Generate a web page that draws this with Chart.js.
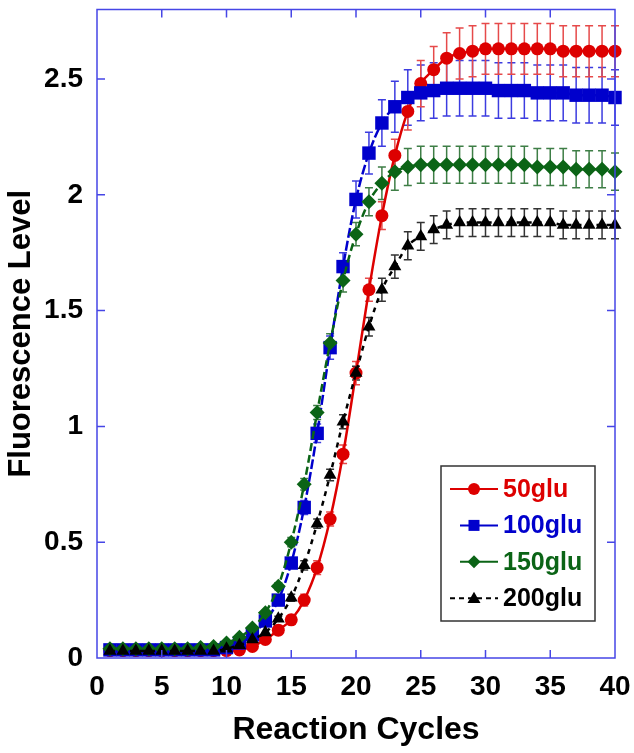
<!DOCTYPE html>
<html>
<head>
<meta charset="utf-8">
<script src="https://cdn.jsdelivr.net/npm/chart.js@4.4.0/dist/chart.umd.min.js"></script>
<style>
html, body { margin: 0; padding: 0; background: #fff; }
#wrap { width: 634px; height: 753px; position: relative; }
</style>
</head>
<body>
<div id="wrap"><canvas id="myChart" width="634" height="753"></canvas></div>
<script>
var cycles = [1,2,3,4,5,6,7,8,9,10,11,12,13,14,15,16,17,18,19,20,21,22,23,24,25,26,27,28,29,30,31,32,33,34,35,36,37,38,39,40];

var glu50 = [0.032,0.032,0.032,0.032,0.032,0.032,0.032,0.032,0.032,0.032,0.035,0.05,0.08,0.12,0.165,0.25,0.39,0.60,0.88,1.23,
             1.59,1.91,2.17,2.36,2.48,2.54,2.59,2.61,2.62,2.63,2.63,2.63,2.63,2.63,2.63,2.62,2.62,2.62,2.62,2.62];
var glu100 = [0.035,0.035,0.035,0.035,0.035,0.035,0.035,0.035,0.035,0.045,0.065,0.10,0.16,0.25,0.41,0.65,0.97,1.34,1.69,1.98,
              2.18,2.31,2.38,2.42,2.44,2.45,2.46,2.46,2.46,2.46,2.45,2.45,2.45,2.44,2.44,2.44,2.43,2.43,2.43,2.42];
var glu150 = [0.04,0.04,0.04,0.04,0.04,0.04,0.04,0.045,0.05,0.065,0.09,0.13,0.195,0.31,0.50,0.75,1.06,1.36,1.63,1.83,
              1.97,2.05,2.10,2.12,2.13,2.13,2.13,2.13,2.13,2.13,2.13,2.13,2.13,2.12,2.12,2.12,2.11,2.11,2.11,2.10];
var glu200 = [0.03,0.03,0.03,0.03,0.03,0.03,0.03,0.03,0.03,0.04,0.055,0.08,0.11,0.17,0.26,0.40,0.58,0.79,1.02,1.23,
              1.43,1.59,1.69,1.78,1.82,1.85,1.87,1.88,1.88,1.88,1.88,1.88,1.88,1.88,1.88,1.87,1.87,1.87,1.87,1.87];

var err50 = [0,0,0,0,0,0,0,0,0,0,0.01,0.01,0.015,0.02,0.02,0.025,0.03,0.03,0.04,0.05,
             0.05,0.06,0.07,0.08,0.10,0.10,0.11,0.11,0.11,0.11,0.11,0.11,0.11,0.11,0.11,0.11,0.11,0.11,0.11,0.11];
var err100 = [0,0,0,0,0,0,0,0,0,0,0,0,0.01,0.015,0.02,0.03,0.04,0.05,0.06,0.08,
              0.09,0.10,0.11,0.12,0.12,0.12,0.12,0.12,0.12,0.12,0.12,0.12,0.12,0.12,0.12,0.12,0.12,0.12,0.12,0.12];
var err150 = [0,0,0,0,0,0,0,0,0,0,0,0,0.01,0.015,0.02,0.025,0.03,0.04,0.05,0.05,
              0.06,0.07,0.08,0.08,0.08,0.08,0.08,0.08,0.08,0.08,0.08,0.08,0.08,0.08,0.08,0.08,0.08,0.08,0.08,0.08];
var err200 = [0,0,0,0,0,0,0,0,0,0,0,0,0,0.01,0.015,0.02,0.02,0.025,0.03,0.03,
              0.04,0.05,0.05,0.06,0.06,0.06,0.06,0.06,0.06,0.06,0.06,0.06,0.06,0.06,0.06,0.06,0.06,0.06,0.06,0.06];

var seriesNames = ["50glu", "100glu", "150glu", "200glu"];
var xTicks = [0, 5, 10, 15, 20, 25, 30, 35, 40];
var yTicks = [0, 0.5, 1, 1.5, 2, 2.5];

var FONT = 'Arial, "Liberation Sans", Helvetica, sans-serif';
var FRAME = '#4646e6';

function toPoints(vals, errs){
    var pts = new Array();
    for (var i = 0; i < cycles.length; i++){
        pts.push({x: cycles[i], y: vals[i], e: errs[i]});
    }
    return pts;
}

function makeSet(label, vals, errs, color, errColor, style, radius, dash, width, order){
    return {
        label: label,
        data: toPoints(vals, errs),
        borderColor: color,
        backgroundColor: color,
        pointBackgroundColor: color,
        pointBorderColor: color,
        pointBorderWidth: 0,
        pointStyle: style,
        pointRadius: radius,
        borderWidth: width,
        borderDash: dash,
        errColor: errColor,
        tension: 0.3,
        cubicInterpolationMode: 'monotone',
        fill: false,
        clip: false,
        order: order
    };
}

var datasets = [
    makeSet(seriesNames[0], glu50, err50, '#dd0000', '#e64a4a', 'circle', 6.5, [], 2.5, 4),
    makeSet(seriesNames[1], glu100, err100, '#0000cc', '#3c3ce0', 'rect', 9.5, [10, 3], 2.5, 3),
    makeSet(seriesNames[2], glu150, err150, '#0b6416', '#3e7e46', 'rectRot', 7.5, [8, 4], 2.5, 2),
    makeSet(seriesNames[3], glu200, err200, '#000000', '#333333', 'triangle', 7.5, [5, 5], 2.5, 1)
];

// error bars, drawn under the markers
var errorBars = {
    id: 'errorBars',
    beforeDatasetsDraw: function(chart){
        var ctx = chart.ctx;
        var xs = chart.scales.x, ys = chart.scales.y;
        ctx.save();
        for (var d = chart.data.datasets.length - 1; d >= 0; d--){
            var ds = chart.data.datasets[d];
            ctx.strokeStyle = ds.errColor;
            ctx.lineWidth = 1.5;
            for (var p of ds.data){
                if (!p.e) continue;
                var px = xs.getPixelForValue(p.x);
                var top = ys.getPixelForValue(p.y + p.e);
                var bot = ys.getPixelForValue(p.y - p.e);
                ctx.beginPath();
                ctx.moveTo(px, top); ctx.lineTo(px, bot);
                ctx.moveTo(px - 4, top); ctx.lineTo(px + 4, top);
                ctx.moveTo(px - 4, bot); ctx.lineTo(px + 4, bot);
                ctx.stroke();
            }
        }
        ctx.restore();
    }
};

// blue frame with inward ticks on all four sides
var frame = {
    id: 'frame',
    afterDatasetsDraw: function(chart){
        var ctx = chart.ctx;
        var a = chart.chartArea;
        var xs = chart.scales.x, ys = chart.scales.y;
        ctx.save();
        ctx.strokeStyle = FRAME;
        ctx.lineWidth = 1.5;
        ctx.strokeRect(a.left, a.top, a.right - a.left, a.bottom - a.top);
        ctx.beginPath();
        for (var t of xTicks){
            if (t == 0 || t == 40) continue;
            var px = xs.getPixelForValue(t);
            ctx.moveTo(px, a.bottom); ctx.lineTo(px, a.bottom - 8);
            ctx.moveTo(px, a.top); ctx.lineTo(px, a.top + 8);
        }
        for (var v of yTicks){
            if (v == 0) continue;
            var py = ys.getPixelForValue(v);
            ctx.moveTo(a.left, py); ctx.lineTo(a.left + 8, py);
            ctx.moveTo(a.right, py); ctx.lineTo(a.right - 8, py);
        }
        ctx.stroke();
        ctx.restore();
    }
};

function marker(ctx, style, x, y, r){
    ctx.beginPath();
    if (style == 'circle'){
        ctx.arc(x, y, r, 0, Math.PI * 2);
    } else if (style == 'rect'){
        ctx.rect(x - r, y - r, 2 * r, 2 * r);
    } else if (style == 'rectRot'){
        ctx.moveTo(x, y - r); ctx.lineTo(x + r, y); ctx.lineTo(x, y + r); ctx.lineTo(x - r, y);
        ctx.closePath();
    } else {
        ctx.moveTo(x, y - r); ctx.lineTo(x + r, y + r * 0.75); ctx.lineTo(x - r, y + r * 0.75);
        ctx.closePath();
    }
    ctx.fill();
}

// boxed legend inside the plot, lower right
var boxLegend = {
    id: 'boxLegend',
    afterDraw: function(chart){
        var ctx = chart.ctx;
        var sets = chart.data.datasets;
        var lineStart = [450, 460, 460, 450];
        var markR = [6, 5.5, 6.5, 6.5];
        ctx.save();
        ctx.fillStyle = '#fff';
        ctx.fillRect(441, 466, 154, 155);
        ctx.strokeStyle = '#333';
        ctx.lineWidth = 1.5;
        ctx.strokeRect(441, 466, 154, 155);
        for (var i = 0; i < sets.length; i++){
            var y = 489 + i * 36.4;
            ctx.strokeStyle = sets[i].borderColor;
            ctx.lineWidth = 2;
            ctx.setLineDash(i == 3 ? [5, 4] : []);
            ctx.beginPath();
            ctx.moveTo(lineStart[i], y); ctx.lineTo(498, y);
            ctx.stroke();
            ctx.setLineDash([]);
            ctx.fillStyle = sets[i].borderColor;
            marker(ctx, sets[i].pointStyle, 474, y, markR[i]);
            ctx.font = 'bold 25px ' + FONT;
            ctx.textBaseline = 'middle';
            ctx.textAlign = 'left';
            ctx.fillText(sets[i].label, 503, y + 1);
        }
        ctx.restore();
    }
};

var ctx = document.getElementById("myChart").getContext('2d');
var fluoChart = new Chart(ctx, {
    type: 'line',
    data: { datasets: datasets },
    plugins: [errorBars, frame, boxLegend],
    options: {
        responsive: false,
        animation: false,
        devicePixelRatio: 1,
        layout: { padding: { left: 0, right: 19, top: 8, bottom: 0 } },
        plugins: { legend: { display: false }, tooltip: { enabled: false } },
        scales: {
            x: {
                type: 'linear',
                min: 0, max: 40,
                grid: { display: false, drawTicks: false },
                border: { display: false },
                ticks: {
                    stepSize: 5, padding: 12, color: '#000', maxRotation: 0,
                    font: { family: FONT, size: 28, weight: 'bold' }
                },
                title: {
                    display: true, text: 'Reaction Cycles', color: '#000',
                    font: { family: FONT, size: 32, weight: 'bold', lineHeight: 1.2 },
                    padding: { top: 0, bottom: 4 }
                },
                afterBuildTicks: function(scale){
                    scale.ticks = xTicks.map(function(v){ return {value: v}; });
                },
                afterFit: function(scale){
                    scale.height = 95;
                    scale.paddingLeft = 0; scale.paddingRight = 0;
                }
            },
            y: {
                min: 0, max: 2.8,
                grid: { display: false, drawTicks: false },
                border: { display: false },
                ticks: {
                    padding: 14, color: '#000',
                    font: { family: FONT, size: 28, weight: 'bold' },
                    callback: function(v){ return String(v); }
                },
                title: {
                    display: true, text: 'Fluorescence Level', color: '#000',
                    font: { family: FONT, size: 31, weight: 'bold', lineHeight: 1.2 },
                    padding: { top: 3, bottom: 0 }
                },
                afterBuildTicks: function(scale){
                    scale.ticks = yTicks.map(function(v){ return {value: v}; });
                },
                afterFit: function(scale){
                    scale.width = 97;
                    scale.paddingTop = 0; scale.paddingBottom = 0;
                }
            }
        }
    }
});
</script>
</body>
</html>
